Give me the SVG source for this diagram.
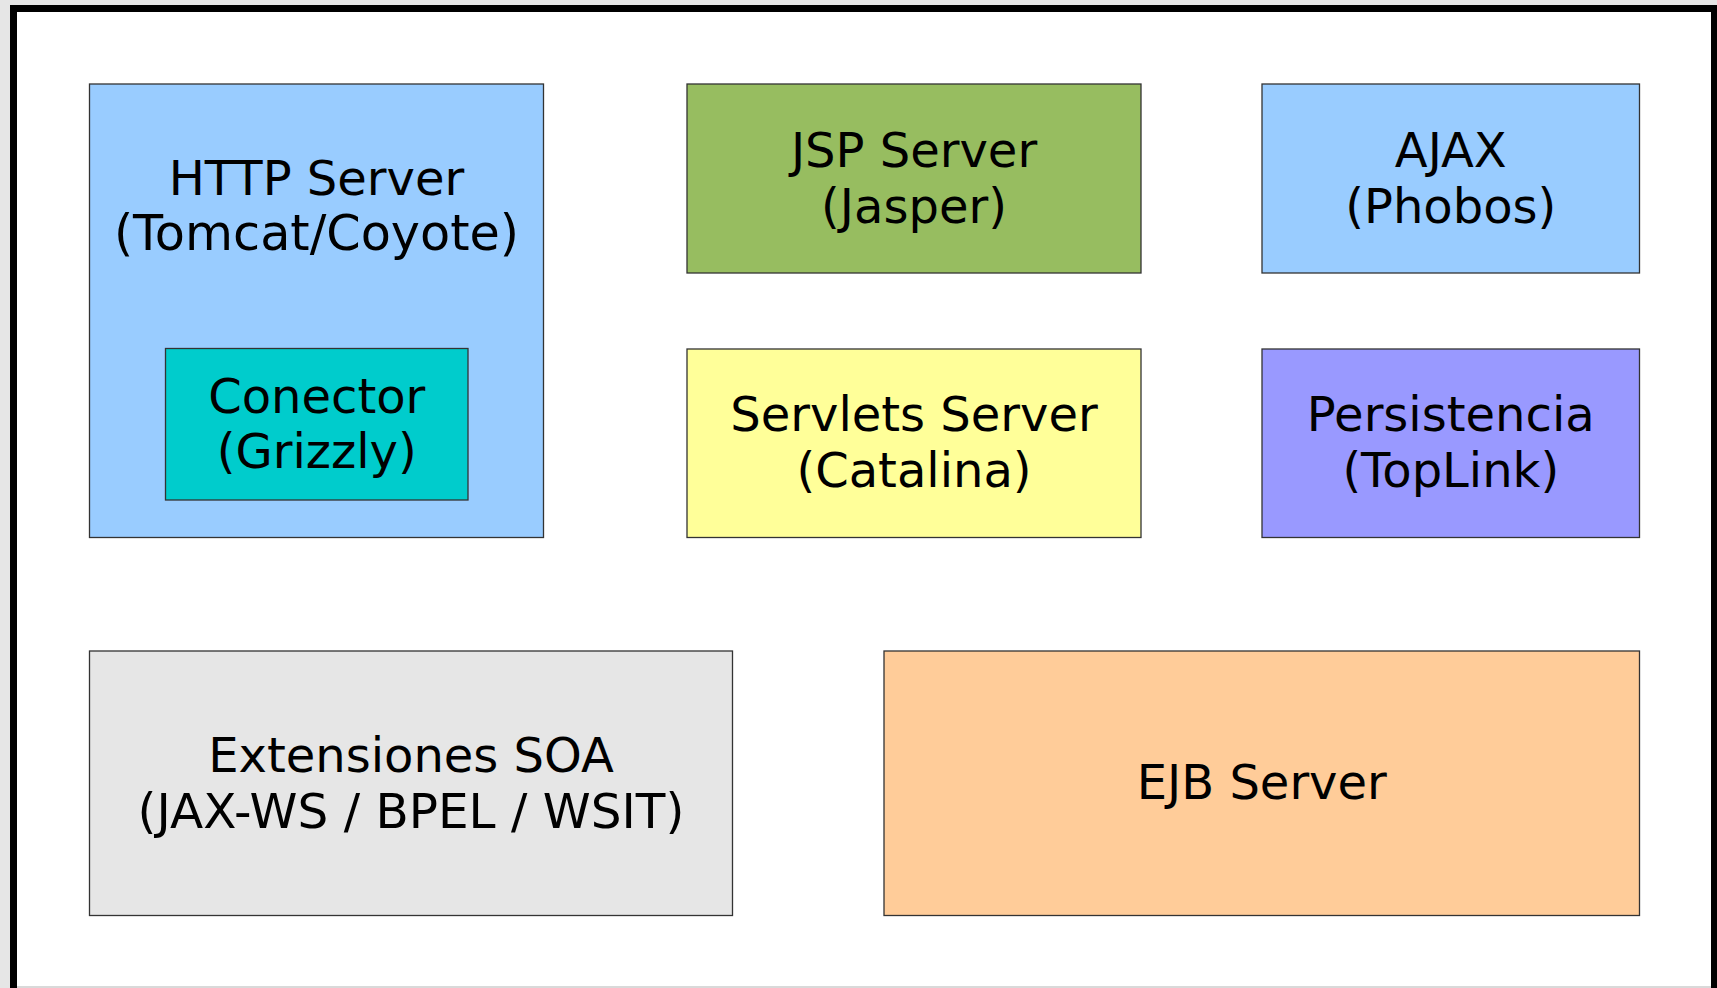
<svg xmlns="http://www.w3.org/2000/svg" width="1717" height="988" viewBox="0 0 1717 988">
  <style>
    .box { stroke: #333333; stroke-width: 1.3; }
    .lbl { font-family: "DejaVu Sans", "Liberation Sans", sans-serif; font-size: 48px; fill: #000000; text-anchor: middle; }
  </style>
  <rect x="0" y="0" width="1717" height="988" fill="#e6e6e6"/>
  <rect x="13.5" y="8.5" width="1701" height="1000" fill="#ffffff" stroke="#000000" stroke-width="7"/>
  <rect x="17" y="986" width="1694" height="2" fill="#d9d9d9"/>

  <g id="http-server">
    <rect class="box" x="89.5" y="84" width="454" height="453.5" fill="#99ccff"/>
    <text class="lbl" x="316.5" y="194.5">HTTP Server</text>
    <text class="lbl" x="316.5" y="250" style="font-size:49.3px">(Tomcat/Coyote)</text>
  </g>
  <g id="conector">
    <rect class="box" x="165.5" y="348.5" width="302.5" height="151.5" fill="#00cccc"/>
    <text class="lbl" x="316.75" y="412.5">Conector</text>
    <text class="lbl" x="316.75" y="467.5">(Grizzly)</text>
  </g>
  <g id="jsp-server">
    <rect class="box" x="687" y="84" width="454" height="189" fill="#97bd60"/>
    <text class="lbl" x="914" y="166.5">JSP Server</text>
    <text class="lbl" x="914" y="222.5">(Jasper)</text>
  </g>
  <g id="ajax">
    <rect class="box" x="1262" y="84" width="377.5" height="189" fill="#99ccff"/>
    <text class="lbl" x="1450.75" y="166.5">AJAX</text>
    <text class="lbl" x="1450.75" y="222.5">(Phobos)</text>
  </g>
  <g id="servlets-server">
    <rect class="box" x="687" y="349" width="454" height="188.5" fill="#ffff99"/>
    <text class="lbl" x="914" y="431">Servlets Server</text>
    <text class="lbl" x="914" y="487">(Catalina)</text>
  </g>
  <g id="persistencia">
    <rect class="box" x="1262" y="349" width="377.5" height="188.5" fill="#9999ff"/>
    <text class="lbl" x="1450.75" y="431">Persistencia</text>
    <text class="lbl" x="1450.75" y="487">(TopLink)</text>
  </g>
  <g id="extensiones-soa">
    <rect class="box" x="89.5" y="651" width="643" height="264.5" fill="#e6e6e6"/>
    <text class="lbl" x="411" y="771.5">Extensiones SOA</text>
    <text class="lbl" x="411" y="827.5" style="font-size:48.5px">(JAX-WS / BPEL / WSIT)</text>
  </g>
  <g id="ejb-server">
    <rect class="box" x="884" y="651" width="755.5" height="264.5" fill="#ffcc99"/>
    <text class="lbl" x="1261.75" y="798.5">EJB Server</text>
  </g>
  <g id="connectors"></g>
</svg>
